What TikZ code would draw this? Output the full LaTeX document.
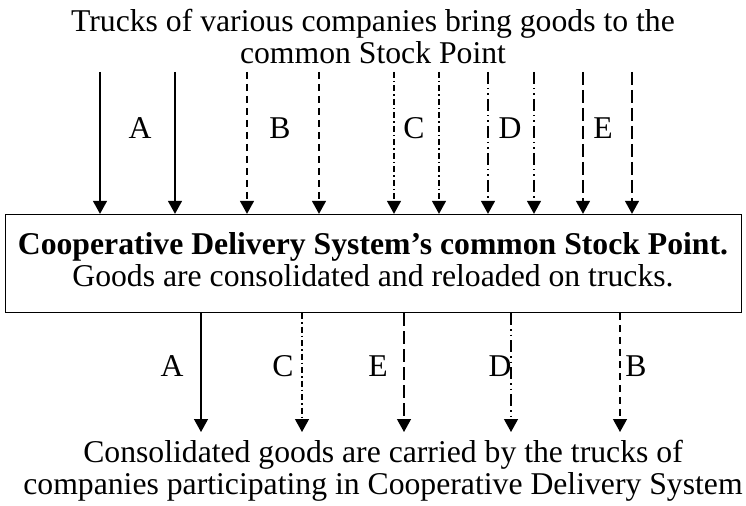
\documentclass[tikz,border=0pt]{standalone}
\usepackage{fontspec}
\setmainfont{Liberation Serif}
\usetikzlibrary{arrows.meta}
\begin{document}
\begin{tikzpicture}[x=1bp,y=-1bp,
  arr/.style={line width=1.3bp,-{Triangle[length=13bp,width=14bp]}},
  sA/.style={arr},
  sB/.style={arr,dash pattern=on 7bp off 5bp},
  sC/.style={arr,dash pattern=on 6bp off 3bp on 1.5bp off 3bp},
  sD/.style={arr,dash pattern=on 12bp off 4bp on 1.5bp off 4bp on 1.5bp off 4bp},
  sE/.style={arr,dash pattern=on 13bp off 5bp},
  lbl/.style={font=\fontsize{31.7bp}{33bp}\selectfont,inner sep=0pt},
  txt/.style={font=\fontsize{31.7bp}{32bp}\selectfont,align=center,inner sep=0pt}]
\useasboundingbox (0,0) rectangle (746,506);
\node[txt,anchor=base] (toptext) at (373,64) {Trucks of various companies bring goods to the\\common Stock Point};
\node[draw,line width=1.3bp,minimum width=736bp,minimum height=98bp,inner sep=0pt] (box) at (373.5,263.5) {};
\node[txt,anchor=base] (boxtext) at (373,287) {\textbf{Cooperative Delivery System’s common Stock Point.}\\Goods are consolidated and reloaded on trucks.};
\node[txt,anchor=base] (bottext) at (383,494) {Consolidated goods are carried by the trucks of\\companies participating in Cooperative Delivery System};
% top arrows
\foreach \n/\x in {a1/100,a2/175,b1/247,b2/319,c1/394,c2/439,d1/488,d2/534,e1/583,e2/632}
  \coordinate (\n) at (\x,72);
\draw[sA] (a1) -- (a1 |- box.north);
\draw[sA] (a2) -- (a2 |- box.north);
\draw[sB] (b1) -- (b1 |- box.north);
\draw[sB] (b2) -- (b2 |- box.north);
\draw[sC] (c1) -- (c1 |- box.north);
\draw[sC] (c2) -- (c2 |- box.north);
\draw[sD] (d1) -- (d1 |- box.north);
\draw[sD] (d2) -- (d2 |- box.north);
\draw[sE] (e1) -- (e1 |- box.north);
\draw[sE] (e2) -- (e2 |- box.north);
\node[lbl] (lA) at (140,128) {A};
\node[lbl] (lB) at (280,128) {B};
\node[lbl] (lC) at (414,128) {C};
\node[lbl] (lD) at (510,128) {D};
\node[lbl] (lE) at (603,128) {E};
% bottom arrows
\foreach \n/\x in {oA/201,oC/302,oE/404,oD/511,oB/620}
  \coordinate (\n) at (\x,432);
\draw[sA] (oA |- box.south) -- (oA);
\draw[sC] (oC |- box.south) -- (oC);
\draw[sE] (oE |- box.south) -- (oE);
\draw[sD] (oD |- box.south) -- (oD);
\draw[sB] (oB |- box.south) -- (oB);
\node[lbl] (mA) at (172,366) {A};
\node[lbl] (mC) at (283,366) {C};
\node[lbl] (mE) at (378,366) {E};
\node[lbl] (mD) at (500,366) {D};
\node[lbl] (mB) at (636,366) {B};
\end{tikzpicture}
\end{document}
